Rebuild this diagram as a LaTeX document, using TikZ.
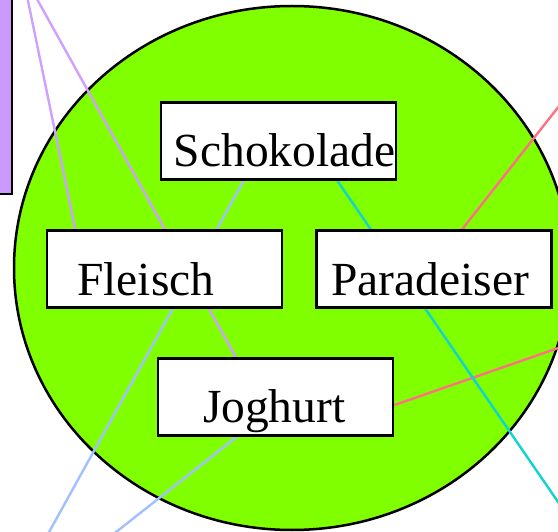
\documentclass[tikz,border=0pt]{standalone}
\usepackage{fontspec}
\setmainfont{Liberation Serif}
\usepackage[HTML]{xcolor}
\usetikzlibrary{positioning}

\definecolor{wiese}{HTML}{80FF00}
\definecolor{lilafill}{HTML}{CC99FF}
\definecolor{lila}{HTML}{D0A0FF}
\definecolor{rosa}{HTML}{FF6F86}
\definecolor{tuerkis}{HTML}{10D4D0}
\definecolor{hellblau}{HTML}{A0C0FF}

\pgfdeclarelayer{hinten}
\pgfdeclarelayer{linien}
\pgfsetlayers{hinten,linien,main}

\begin{document}
\begin{tikzpicture}[
    x=1pt, y=-1pt, % pixel-like coordinates, y pointing down
    every node/.style={font=\fontsize{47.5}{47.5}\selectfont},
    kasten/.style={draw, fill=white, line width=2.5pt, inner sep=0pt,
        text width=235pt, text height=64.5pt, text depth=12.5pt, align=left},
    kante/.style={line width=2.4pt}
]
    \clip (0,0) rectangle (558,532);
    \useasboundingbox (0,0) rectangle (558,532);

    % Free ends outside the frame
    \coordinate (oben) at (22,-28);
    \coordinate (rechtsoben) at (600,54);
    \coordinate (rechts) at (600,333.5);
    \coordinate (rechtsunten) at (600,563);
    \coordinate (unten) at (-3,626);

    % The boxes inside the green area
    \node[kasten] (schoko) at (278.3,140.8) {\hspace*{13pt}Schokolade};
    \node[kasten] (fleisch) at (164.6,269.2) {\hspace*{30pt}Fleisch};
    \node[kasten] (paradeiser) at (434.2,269.2) {\hspace*{14.5pt}Paradeiser};
    \node[kasten] (joghurt) at (275.5,396.8) {\hspace*{45pt}Joghurt};

    % Purple box on the left edge
    \filldraw[fill=lilafill, draw=black, line width=2.5pt] (-20,-20) rectangle (12,194);

    % Green area
    \begin{pgfonlayer}{hinten}
        \draw[fill=wiese, line width=2.5pt] (292,268) ellipse [x radius=278, y radius=262];
    \end{pgfonlayer}

    % Connectors behind the boxes
    \begin{pgfonlayer}{linien}
        \draw[kante, lila] (oben) -- (fleisch.156);
        \draw[kante, lila] (oben) -- (joghurt.135);
        \draw[kante, rosa] (rechtsoben) -- (paradeiser.55);
        \draw[kante, rosa] (joghurt.-4) -- (rechts);
        \draw[kante, tuerkis] (schoko.-34) -- (rechtsunten);
        \draw[kante, hellblau] (schoko.229) -- (unten);
        \draw[kante, hellblau] (joghurt.226) -- (unten);
    \end{pgfonlayer}

\end{tikzpicture}
\end{document}
